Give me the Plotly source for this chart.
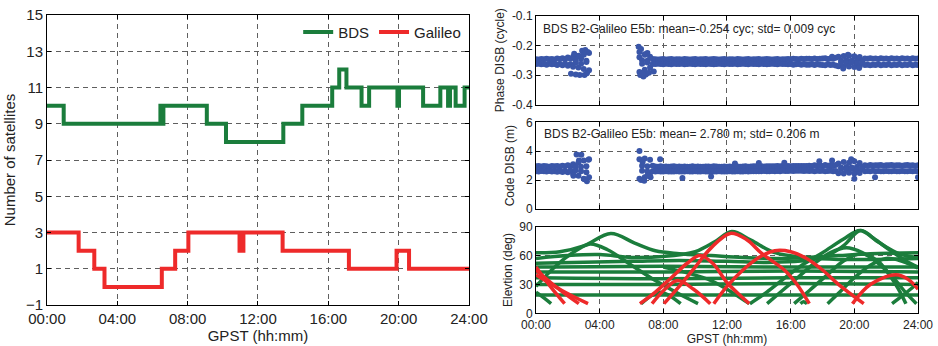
import plotly.graph_objects as go

# ---------------- data ----------------
hour_ticks = [0, 4, 8, 12, 16, 20, 24]
hour_labels = ["00:00", "04:00", "08:00", "12:00", "16:00", "20:00", "24:00"]
nsat_ticks = [-1, 1, 3, 5, 7, 9, 11, 13, 15]

# number of satellites (step series)
bds_t = [0, 0.95, 6.45, 6.55, 6.62, 9.09, 10.18, 13.44, 14.52, 16.22, 16.62, 17.03, 17.89, 18.32,
         19.93, 20.02, 21.39, 22.37, 22.81, 22.92, 23.24, 23.75, 24]
bds_n = [10, 9, 10, 9, 10, 9, 8, 9, 10, 11, 12, 11, 10, 11,
         10, 11, 10, 11, 10, 11, 10, 11, 11]
gal_t = [0, 1.80, 2.69, 3.27, 6.53, 7.29, 8.04, 10.95, 11.17, 13.40, 17.17, 19.88, 20.59, 24]
gal_n = [3, 2, 1, 0, 1, 2, 3, 2, 3, 2, 1, 2, 1, 1]

# DISB epochs (minutes of day)
seg1_min = list(range(0, 201, 10))
seg2_min = list(range(390, 1441, 10))

phase1_a = [-0.247, -0.248, -0.246, -0.247, -0.245, -0.247, -0.246, -0.248, -0.244, -0.246, -0.243,
            -0.247, -0.241, -0.245, -0.238, -0.250, -0.235, -0.244, -0.228, -0.252, -0.226]
phase1_b = [-0.263, -0.262, -0.264, -0.263, -0.265, -0.262, -0.264, -0.263, -0.266, -0.263, -0.267,
            -0.262, -0.269, -0.264, -0.272, -0.258, -0.275, -0.262, -0.280, -0.256, -0.284]
phase2_a = [-0.222, -0.250, -0.230, -0.252, -0.238, -0.246,
            -0.247, -0.248, -0.247, -0.246, -0.248, -0.247, -0.246, -0.248, -0.247, -0.247,
            -0.248, -0.246, -0.247, -0.248, -0.247, -0.246, -0.248, -0.247, -0.247, -0.246,
            -0.248, -0.247, -0.246, -0.247, -0.248, -0.247, -0.246, -0.248, -0.247, -0.247,
            -0.248, -0.246, -0.247, -0.248, -0.247, -0.246, -0.248, -0.247, -0.247, -0.246,
            -0.248, -0.247, -0.246, -0.247, -0.248, -0.247, -0.246, -0.248, -0.247, -0.247,
            -0.246, -0.247, -0.245, -0.246, -0.247, -0.245, -0.246, -0.245,
            -0.245, -0.246, -0.244, -0.246, -0.245, -0.244, -0.243, -0.246, -0.244, -0.245, -0.242,
            -0.238, -0.252, -0.236, -0.250, -0.235, -0.252, -0.237, -0.250, -0.239, -0.251,
            -0.244, -0.245, -0.243, -0.245, -0.244, -0.246, -0.243, -0.245, -0.244, -0.246, -0.243,
            -0.245, -0.244, -0.246, -0.243, -0.245, -0.244, -0.246, -0.243, -0.245, -0.244]
phase2_b = [-0.290, -0.262, -0.282, -0.258, -0.275, -0.263,
            -0.263, -0.262, -0.263, -0.264, -0.262, -0.263, -0.264, -0.262, -0.263, -0.263,
            -0.262, -0.264, -0.263, -0.262, -0.263, -0.264, -0.262, -0.263, -0.263, -0.264,
            -0.262, -0.263, -0.264, -0.263, -0.262, -0.263, -0.264, -0.262, -0.263, -0.263,
            -0.262, -0.264, -0.263, -0.262, -0.263, -0.264, -0.262, -0.263, -0.263, -0.264,
            -0.262, -0.263, -0.264, -0.263, -0.262, -0.263, -0.264, -0.262, -0.263, -0.263,
            -0.264, -0.263, -0.265, -0.264, -0.263, -0.265, -0.264, -0.265,
            -0.265, -0.264, -0.266, -0.264, -0.265, -0.266, -0.267, -0.264, -0.266, -0.265, -0.268,
            -0.270, -0.258, -0.272, -0.259, -0.271, -0.257, -0.273, -0.259, -0.270, -0.258,
            -0.266, -0.265, -0.267, -0.265, -0.266, -0.264, -0.267, -0.265, -0.266, -0.264, -0.267,
            -0.265, -0.266, -0.264, -0.267, -0.265, -0.266, -0.264, -0.267, -0.265, -0.266]
phase_out_t = [2.2, 2.5, 2.75, 3.05, 3.2, 2.9, 3.1, 3.25, 2.4, 2.7, 3.0,
               6.45, 6.6, 6.55, 6.75, 6.9, 7.1, 7.0, 7.4, 6.7, 6.5, 6.85, 19.6, 19.3, 20.3, 18.6]
phase_out_v = [-0.296, -0.298, -0.300, -0.300, -0.294, -0.218, -0.216, -0.222, -0.228, -0.236, -0.232,
               -0.205, -0.212, -0.300, -0.305, -0.298, -0.292, -0.226, -0.288, -0.296, -0.240, -0.232,
               -0.232, -0.278, -0.276, -0.238]

code1_a = [2.95, 2.98, 2.94, 2.97, 2.96, 2.93, 2.98, 2.95, 2.97, 2.94, 3.00, 2.96, 3.02, 2.94, 3.10,
           2.90, 3.20, 2.92, 3.35, 2.95, 3.45]
code1_b = [2.62, 2.60, 2.63, 2.61, 2.59, 2.63, 2.60, 2.62, 2.58, 2.61, 2.56, 2.62, 2.54, 2.64, 2.42,
           2.68, 2.30, 2.62, 2.10, 2.55, 2.20]
code2_a = [3.45, 3.00, 3.50, 2.95, 3.40, 3.00,
           2.94, 2.93, 2.95, 2.93, 2.94, 2.92, 2.94, 2.95, 2.93, 2.94,
           2.93, 2.94, 2.92, 2.93, 2.95, 2.93, 2.94, 2.92, 2.93, 2.94,
           2.94, 2.93, 2.95, 2.94, 2.93, 2.92, 2.94, 2.93, 2.94, 2.93,
           2.95, 2.94, 2.93, 2.94, 2.95, 2.93, 2.94, 2.95, 2.96, 2.94,
           2.95, 2.94, 2.96, 2.95, 2.96, 2.95, 2.97, 2.96, 2.97, 2.96,
           2.97, 2.96, 2.98, 2.97, 2.98, 2.97, 2.98, 2.97,
           3.00, 2.98, 3.02, 2.99, 3.01, 2.98, 3.04, 2.99, 3.02, 2.98, 3.05,
           3.15, 2.88, 3.25, 2.90, 3.20, 2.88, 3.30, 2.92, 3.18, 2.90,
           3.02, 3.00, 3.04, 3.01, 3.02, 3.03, 3.04, 3.00, 3.02, 3.03, 3.04,
           3.01, 3.02, 3.03, 3.00, 3.02, 3.04, 3.01, 3.02, 3.00, 3.02]
code2_b = [2.10, 2.65, 2.20, 2.60, 2.30, 2.62,
           2.60, 2.61, 2.59, 2.60, 2.61, 2.60, 2.59, 2.60, 2.61, 2.60,
           2.60, 2.59, 2.61, 2.60, 2.59, 2.61, 2.60, 2.60, 2.61, 2.59,
           2.60, 2.61, 2.59, 2.60, 2.61, 2.60, 2.60, 2.59, 2.61, 2.60,
           2.60, 2.61, 2.60, 2.59, 2.61, 2.60, 2.62, 2.61, 2.62, 2.61,
           2.62, 2.63, 2.62, 2.61, 2.63, 2.62, 2.63, 2.62, 2.64, 2.63,
           2.63, 2.64, 2.63, 2.64, 2.65, 2.64, 2.63, 2.64,
           2.63, 2.64, 2.62, 2.65, 2.63, 2.64, 2.62, 2.63, 2.64, 2.62, 2.63,
           2.48, 2.76, 2.45, 2.74, 2.50, 2.78, 2.46, 2.75, 2.49, 2.76,
           2.62, 2.63, 2.61, 2.64, 2.62, 2.63, 2.61, 2.62, 2.63, 2.61, 2.62,
           2.63, 2.62, 2.61, 2.63, 2.62, 2.61, 2.63, 2.62, 2.63, 2.62]
code_out_t = [2.55, 2.85, 3.2, 3.05, 3.3, 2.35, 2.7, 6.5, 6.6, 6.8, 7.2, 6.7, 7.0, 7.8, 9.2, 11.0,
              15.6, 17.8, 18.6, 20.0, 21.3, 19.8, 24.0, 12.5, 14.0]
code_out_v = [3.78, 3.75, 1.92, 2.05, 3.40, 2.30, 3.35, 4.02, 2.00, 1.95, 2.20, 3.25, 2.30, 3.45, 2.15,
              2.25, 3.20, 3.30, 3.35, 2.10, 2.20, 3.45, 2.20, 3.15, 3.18]

# elevation arcs (hours, degrees)
bds_arc_t = [
    [0, 1.5, 3, 4.7, 6.2, 7.5, 9, 11, 13, 15, 17, 19, 21, 24],
    [0, 2, 4, 6, 8, 10, 11.2, 12.3, 13.5, 15, 17, 19, 21, 24],
    [0, 3, 6, 9, 12, 15, 18, 19.3, 20.4, 21.5, 22.8, 24],
    [0, 8, 16, 24],
    [0, 8, 16, 24],
    [0, 8, 16, 24],
    [0, 8, 16, 24],
    [0, 8, 16, 24],
    [0, 0.5, 0.95],
    [0, 1.3, 2.5, 3.4, 4.5, 6, 7.5, 9, 10.18],
    [6.6, 7.8, 9.09],
    [13.44, 14.5, 15.5, 16.7, 18, 19.3, 20.35, 21.2, 22.2, 23.2, 24],
    [14.52, 15.5, 16.5, 17.5, 18.5, 19.5, 20.5, 21.5, 22.5, 23.2, 23.9],
    [16.22, 17.2, 18.3, 19.3, 20.4, 21.5, 22.6, 23.24],
    [16.62, 16.8, 17.03],
    [18.32, 19.2, 20, 21, 22, 23, 24],
    [22.37, 23, 23.6, 24],
    [8, 9.5, 11, 12.3, 13.4],
]
bds_arc_el = [
    [63, 64, 70, 83, 73, 65, 62, 60, 58, 57, 58, 60, 62, 63],
    [57, 60, 61, 58, 59, 64, 74, 85, 76, 63, 58, 56, 56, 57],
    [52, 53, 54, 55, 54, 53, 58, 70, 86, 74, 62, 58],
    [48, 49, 48, 48],
    [43, 43, 44, 43],
    [37, 36, 37, 37],
    [30, 30, 31, 30],
    [19, 19, 19, 19],
    [22, 16, 10],
    [28, 50, 65, 72, 66, 50, 34, 20, 10],
    [10, 22, 10],
    [10, 22, 35, 50, 63, 77, 86, 78, 66, 55, 48],
    [10, 24, 38, 52, 63, 68, 63, 52, 36, 22, 10],
    [10, 24, 40, 54, 62, 54, 30, 10],
    [10, 12, 10],
    [10, 24, 37, 50, 57, 54, 47],
    [10, 18, 26, 32],
    [48, 42, 34, 22, 10],
]
gal_arc_t = [
    [0, 0.9, 1.8],
    [0, 1.3, 2.69],
    [0, 1.6, 3.27],
    [6.53, 7.5, 8.5, 9.5, 10.3, 11.1, 12, 12.8, 13.4],
    [7.29, 8.1, 8.9, 9.9, 10.95],
    [8.04, 9, 10, 11, 12.2, 13.2, 14.2, 15.6, 16.4, 17.17],
    [11.17, 12, 13, 14, 15, 16, 17, 18, 19, 20.59],
    [19.88, 21, 22.6, 23.4, 24],
]
gal_arc_el = [
    [48, 28, 10],
    [45, 27, 10],
    [40, 24, 10],
    [10, 22, 37, 52, 60, 52, 32, 19, 10],
    [10, 25, 34, 25, 10],
    [10, 28, 48, 68, 83, 77, 62, 45, 30, 10],
    [10, 28, 45, 58, 65, 64, 57, 45, 30, 10],
    [10, 30, 40, 35, 25],
]

# ---------------- style ----------------
GREEN = "#1b7d3c"
RED = "#ee2a2a"
BLUE = "#3a56a8"
GRID = "#5f5f5f"
DASH = "5px,4px"
FONT = "Liberation Sans, Arial, sans-serif"

fig = go.Figure()

# left: number of satellites
fig.add_trace(go.Scatter(x=bds_t, y=bds_n, mode="lines", line=dict(color=GREEN, width=4, shape="hv"),
                         name="BDS", xaxis="x", yaxis="y"))
fig.add_trace(go.Scatter(x=gal_t, y=gal_n, mode="lines", line=dict(color=RED, width=4, shape="hv"),
                         name="Galileo", xaxis="x", yaxis="y"))

seg1_h = [m / 60 for m in seg1_min]
seg2_h = [m / 60 for m in seg2_min]
mk = dict(color=BLUE, size=6, line=dict(width=0))


def pts(x, y, ax, ay):
    fig.add_trace(go.Scatter(x=x, y=y, mode="markers", marker=mk, showlegend=False, xaxis=ax, yaxis=ay))


pts(seg1_h, phase1_a, "x2", "y2")
pts(seg1_h, phase1_b, "x2", "y2")
pts(seg2_h, phase2_a, "x2", "y2")
pts(seg2_h, phase2_b, "x2", "y2")
pts(phase_out_t, phase_out_v, "x2", "y2")

pts(seg1_h, code1_a, "x3", "y3")
pts(seg1_h, code1_b, "x3", "y3")
pts(seg2_h, code2_a, "x3", "y3")
pts(seg2_h, code2_b, "x3", "y3")
pts(code_out_t, code_out_v, "x3", "y3")

for t, e in zip(bds_arc_t, bds_arc_el):
    fig.add_trace(go.Scatter(x=t, y=e, mode="lines", line=dict(color=GREEN, width=3.5, shape="spline"),
                             showlegend=False, xaxis="x4", yaxis="y4"))
for t, e in zip(gal_arc_t, gal_arc_el):
    fig.add_trace(go.Scatter(x=t, y=e, mode="lines", line=dict(color=RED, width=3.5, shape="spline"),
                             showlegend=False, xaxis="x4", yaxis="y4"))


def axis(**kw):
    base = dict(showline=True, linecolor="black", linewidth=1, mirror="ticks", ticks="inside",
                ticklen=4, tickcolor="black", showgrid=True, gridcolor=GRID, griddash=DASH,
                gridwidth=1, zeroline=False, automargin=False,
                tickfont=dict(size=12, color="#222", family=FONT))
    base.update(kw)
    return base


RX = [0.5714, 0.9787]
fig.update_layout(
    width=938, height=346, margin=dict(l=0, r=0, t=0, b=0, autoexpand=False),
    paper_bgcolor="white", plot_bgcolor="white",
    font=dict(family=FONT, color="#222"),
    showlegend=True,
    legend=dict(orientation="h", x=0.497, xanchor="right", y=0.907, yanchor="middle",
                bgcolor="rgba(0,0,0,0)", font=dict(size=15, color="#222"), itemwidth=30,
                tracegroupgap=0),
    xaxis=axis(domain=[0.0501, 0.5], range=[0, 24], tickvals=hour_ticks, ticktext=hour_labels,
               tickfont=dict(size=15, color="#222", family=FONT), anchor="y",
               title=dict(text="GPST (hh:mm)", font=dict(size=15), standoff=2)),
    yaxis=axis(domain=[0.1185, 0.9566], range=[-1, 15], tickvals=nsat_ticks, anchor="x",
               tickfont=dict(size=15, color="#222", family=FONT),
               title=dict(text="Number of satellites", font=dict(size=15), standoff=6)),
    xaxis2=axis(domain=RX, range=[0, 24], tickvals=hour_ticks, showticklabels=False, anchor="y2"),
    yaxis2=axis(domain=[0.6974, 0.9546], range=[-0.4, -0.1], tickvals=[-0.4, -0.3, -0.2, -0.1],
                ticktext=["-0.4", "-0.3", "-0.2", "-0.1"], anchor="x2",
                title=dict(text="Phase DISB (cycle)", font=dict(size=12), standoff=4)),
    xaxis3=axis(domain=RX, range=[0, 24], tickvals=hour_ticks, showticklabels=False, anchor="y3"),
    yaxis3=axis(domain=[0.3960, 0.6465], range=[0, 6], tickvals=[0, 2, 4, 6], anchor="x3",
                title=dict(text="Code DISB (m)", font=dict(size=12), standoff=8)),
    xaxis4=axis(domain=RX, range=[0, 24], tickvals=hour_ticks, ticktext=hour_labels, anchor="y4",
                title=dict(text="GPST (hh:mm)", font=dict(size=12), standoff=2)),
    yaxis4=axis(domain=[0.0945, 0.3448], range=[0, 90], tickvals=[0, 30, 60, 90], anchor="x4",
                title=dict(text="Elevtion (deg)", font=dict(size=12), standoff=4)),
    annotations=[
        dict(text="BDS B2-Galileo E5b: mean=-0.254 cyc; std= 0.009 cyc", x=0.5768, y=0.9153,
             xref="paper", yref="paper", xanchor="left", yanchor="middle", showarrow=False,
             font=dict(size=12, color="#222")),
        dict(text="BDS B2-Galileo E5b: mean= 2.780 m; std= 0.206 m", x=0.5775, y=0.6118,
             xref="paper", yref="paper", xanchor="left", yanchor="middle", showarrow=False,
             font=dict(size=12, color="#222")),
    ],
)

fig.write_html("out.html", config={"displayModeBar": False},
               post_script="document.body.style.margin='0';document.body.style.overflow='hidden';")
